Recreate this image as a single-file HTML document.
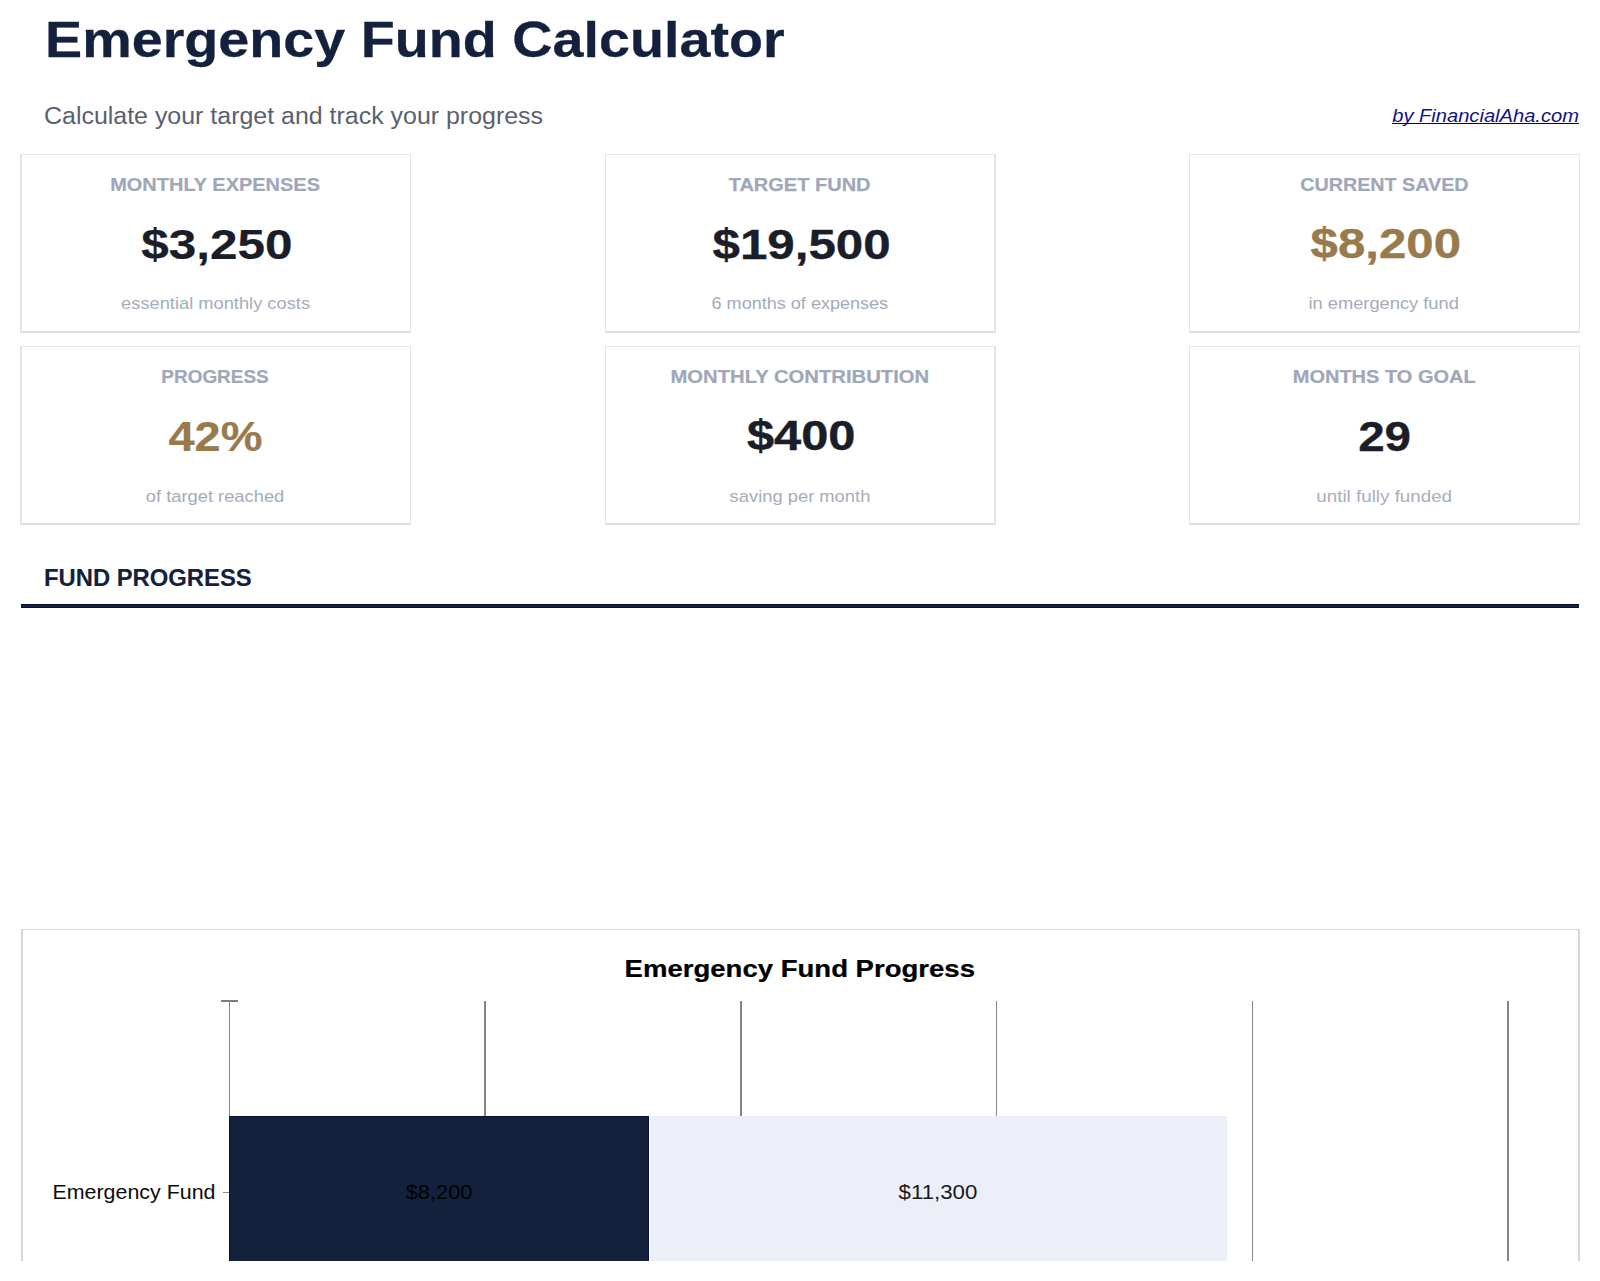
<!DOCTYPE html>
<html lang="en"><head><meta charset="utf-8"><title>Emergency Fund Calculator</title>
<style>
html,body{margin:0;padding:0;background:#fff;overflow:hidden;}
body{width:1600px;height:1281px;overflow:hidden;position:relative;font-family:"Liberation Sans", sans-serif;}
.t{position:absolute;white-space:nowrap;margin:0;padding:0;}
a.t{text-decoration:none;}
.t span{display:inline-block;}
.card{position:absolute;box-sizing:border-box;width:390px;height:179px;background:#fff;border:1px solid #e3e4e9;border-bottom:2px solid #dcdfe6;}
</style></head><body>

<div class="card" style="left:20px;top:154px;width:391px;border-left-width:2px;border-right-width:1px;"></div>
<div class="card" style="left:605px;top:154px;width:391px;border-left-width:1px;border-right-width:2px;"></div>
<div class="card" style="left:1189px;top:154px;width:391px;border-left-width:1px;border-right-width:1px;"></div>
<div class="card" style="left:20px;top:346px;width:391px;border-left-width:2px;border-right-width:1px;"></div>
<div class="card" style="left:605px;top:346px;width:391px;border-left-width:1px;border-right-width:2px;"></div>
<div class="card" style="left:1189px;top:346px;width:391px;border-left-width:1px;border-right-width:1px;"></div>
<div style="position:absolute;left:21px;top:604px;width:1558px;height:4px;box-sizing:border-box;background:#14213d;border-top:1px solid #08142f;border-bottom:1px solid #08142f;"></div>
<svg style="position:absolute;left:0;top:0;" width="1600" height="1281" viewBox="0 0 1600 1281" shape-rendering="crispEdges">
<rect x="21" y="929" width="1559" height="1" fill="#d9d9d9"/>
<rect x="21" y="929" width="2" height="332" fill="#d6d6d6"/>
<rect x="1578" y="929" width="2" height="332" fill="#d6d6d6"/>
<rect x="229" y="1001" width="1" height="260" fill="#898989"/>
<rect x="484" y="1001" width="2" height="260" fill="#858585"/>
<rect x="740" y="1001" width="2" height="260" fill="#858585"/>
<rect x="996" y="1001" width="1" height="260" fill="#898989"/>
<rect x="1252" y="1001" width="1" height="260" fill="#898989"/>
<rect x="1507" y="1001" width="2" height="260" fill="#858585"/>
<rect x="221" y="1000" width="17" height="2" fill="#7d7d7d"/>
<rect x="223" y="1192" width="6" height="1" fill="#888888"/>
<rect x="229" y="1116" width="420" height="145" fill="#06122f"/>
<rect x="230" y="1117" width="418" height="144" fill="#14213d"/>
<rect x="650" y="1116" width="577" height="145" fill="#eceff7"/>
</svg>
<div style="position:absolute;left:1392px;top:123px;width:187px;height:1px;background:#000080;"></div>
<div style="position:absolute;left:0;top:1261px;width:1600px;height:20px;background:#fff;z-index:5;"></div>
<h1 class="t" id="title" style="left:44.73px;top:7.40px;font-size:50.86px;line-height:66px;font-weight:700;font-style:normal;color:#14213d;z-index:10;-webkit-text-stroke:0.30px #14213d;"><span style="transform:scaleX(1.0952);transform-origin:left center;">Emergency Fund Calculator</span></h1>
<p class="t" id="subtitle" style="left:43.97px;top:100.51px;font-size:23.1px;line-height:30px;font-weight:400;font-style:normal;color:#3f4656;z-index:10;opacity:0.858;"><span style="transform:scaleX(1.0799);transform-origin:left center;">Calculate your target and track your progress</span></p>
<a class="t" id="link" style="right:20.62px;text-align:right;top:102.90px;font-size:19.07px;line-height:25px;font-weight:400;font-style:italic;color:#000080;z-index:10;opacity:0.928;"><span style="transform:scaleX(1.0553);transform-origin:right center;">by FinancialAha.com</span></a>
<div class="t" id="lab00" style="left:-184.75px;width:800px;text-align:center;top:171.90px;font-size:19.07px;line-height:25px;font-weight:700;font-style:normal;color:#a0a7b8;z-index:10;-webkit-text-stroke:0.21px #a0a7b8;"><span style="transform:scaleX(1.0481);transform-origin:center center;">MONTHLY EXPENSES</span></div>
<div class="t" id="val00" style="left:-183.18px;width:800px;text-align:center;top:216.64px;font-size:42.38px;line-height:55px;font-weight:700;font-style:normal;color:#1b1e28;z-index:10;-webkit-text-stroke:0.23px #1b1e28;"><span style="transform:scaleX(1.1672);transform-origin:center center;">$3,250</span></div>
<div class="t" id="sm00" style="left:-184.55px;width:800px;text-align:center;top:293.14px;font-size:16.95px;line-height:22px;font-weight:400;font-style:normal;color:#a0a7b8;z-index:10;opacity:0.929;"><span style="transform:scaleX(1.0791);transform-origin:center center;">essential monthly costs</span></div>
<div class="t" id="lab10" style="left:399.62px;width:800px;text-align:center;top:171.90px;font-size:19.07px;line-height:25px;font-weight:700;font-style:normal;color:#a0a7b8;z-index:10;-webkit-text-stroke:0.25px #a0a7b8;"><span style="transform:scaleX(1.0496);transform-origin:center center;">TARGET FUND</span></div>
<div class="t" id="val10" style="left:401.59px;width:800px;text-align:center;top:216.64px;font-size:42.38px;line-height:55px;font-weight:700;font-style:normal;color:#1b1e28;z-index:10;-webkit-text-stroke:0.35px #1b1e28;"><span style="transform:scaleX(1.1639);transform-origin:center center;">$19,500</span></div>
<div class="t" id="sm10" style="left:400.30px;width:800px;text-align:center;top:293.14px;font-size:16.95px;line-height:22px;font-weight:400;font-style:normal;color:#a0a7b8;z-index:10;opacity:0.954;"><span style="transform:scaleX(1.0655);transform-origin:center center;">6 months of expenses</span></div>
<div class="t" id="lab20" style="left:984.34px;width:800px;text-align:center;top:171.76px;font-size:19.07px;line-height:25px;font-weight:700;font-style:normal;color:#a0a7b8;z-index:10;-webkit-text-stroke:0.22px #a0a7b8;"><span style="transform:scaleX(1.0350);transform-origin:center center;">CURRENT SAVED</span></div>
<div class="t" id="val20" style="left:985.88px;width:800px;text-align:center;top:216.34px;font-size:42.38px;line-height:55px;font-weight:700;font-style:normal;color:#987a4d;z-index:10;-webkit-text-stroke:0.40px #987a4d;"><span style="transform:scaleX(1.1601);transform-origin:center center;">$8,200</span></div>
<div class="t" id="sm20" style="left:983.51px;width:800px;text-align:center;top:293.14px;font-size:16.95px;line-height:22px;font-weight:400;font-style:normal;color:#a0a7b8;z-index:10;opacity:0.936;"><span style="transform:scaleX(1.0789);transform-origin:center center;">in emergency fund</span></div>
<div class="t" id="lab01" style="left:-184.80px;width:800px;text-align:center;top:363.90px;font-size:19.07px;line-height:25px;font-weight:700;font-style:normal;color:#a0a7b8;z-index:10;-webkit-text-stroke:0.22px #a0a7b8;"><span style="transform:scaleX(0.9937);transform-origin:center center;">PROGRESS</span></div>
<div class="t" id="val01" style="left:-184.46px;width:800px;text-align:center;top:408.64px;font-size:42.38px;line-height:55px;font-weight:700;font-style:normal;color:#987a4d;z-index:10;-webkit-text-stroke:0.20px #987a4d;"><span style="transform:scaleX(1.1076);transform-origin:center center;">42%</span></div>
<div class="t" id="sm01" style="left:-184.96px;width:800px;text-align:center;top:486.14px;font-size:16.95px;line-height:22px;font-weight:400;font-style:normal;color:#a0a7b8;z-index:10;opacity:0.957;"><span style="transform:scaleX(1.0816);transform-origin:center center;">of target reached</span></div>
<div class="t" id="lab11" style="left:400.14px;width:800px;text-align:center;top:363.90px;font-size:19.07px;line-height:25px;font-weight:700;font-style:normal;color:#a0a7b8;z-index:10;-webkit-text-stroke:0.22px #a0a7b8;"><span style="transform:scaleX(1.0623);transform-origin:center center;">MONTHLY CONTRIBUTION</span></div>
<div class="t" id="val11" style="left:400.97px;width:800px;text-align:center;top:408.34px;font-size:42.38px;line-height:55px;font-weight:700;font-style:normal;color:#1b1e28;z-index:10;-webkit-text-stroke:0.41px #1b1e28;"><span style="transform:scaleX(1.1509);transform-origin:center center;">$400</span></div>
<div class="t" id="sm11" style="left:400.28px;width:800px;text-align:center;top:486.14px;font-size:16.95px;line-height:22px;font-weight:400;font-style:normal;color:#a0a7b8;z-index:10;opacity:0.928;"><span style="transform:scaleX(1.0832);transform-origin:center center;">saving per month</span></div>
<div class="t" id="lab21" style="left:984.07px;width:800px;text-align:center;top:363.90px;font-size:19.07px;line-height:25px;font-weight:700;font-style:normal;color:#a0a7b8;z-index:10;-webkit-text-stroke:0.24px #a0a7b8;"><span style="transform:scaleX(1.0490);transform-origin:center center;">MONTHS TO GOAL</span></div>
<div class="t" id="val21" style="left:984.24px;width:800px;text-align:center;top:408.64px;font-size:42.38px;line-height:55px;font-weight:700;font-style:normal;color:#1b1e28;z-index:10;-webkit-text-stroke:0.35px #1b1e28;"><span style="transform:scaleX(1.1216);transform-origin:center center;">29</span></div>
<div class="t" id="sm21" style="left:983.92px;width:800px;text-align:center;top:486.14px;font-size:16.95px;line-height:22px;font-weight:400;font-style:normal;color:#a0a7b8;z-index:10;opacity:0.915;"><span style="transform:scaleX(1.1088);transform-origin:center center;">until fully funded</span></div>
<h2 class="t" id="sect" style="left:44.34px;top:563.21px;font-size:23.1px;line-height:30px;font-weight:700;font-style:normal;color:#14213d;z-index:10;-webkit-text-stroke:0.11px #14213d;"><span style="transform:scaleX(1.0308);transform-origin:left center;">FUND PROGRESS</span></h2>
<div class="t" id="ctitle" style="left:400.10px;width:800px;text-align:center;top:953.42px;font-size:24.8px;line-height:32px;font-weight:700;font-style:normal;color:#000000;z-index:10;-webkit-text-stroke:0.24px #000000;"><span style="transform:scaleX(1.1103);transform-origin:center center;">Emergency Fund Progress</span></div>
<div class="t" id="ylab" style="right:1384.65px;text-align:right;top:1178.39px;font-size:20.56px;line-height:27px;font-weight:400;font-style:normal;color:#000000;z-index:10;opacity:0.948;"><span style="transform:scaleX(1.0422);transform-origin:right center;">Emergency Fund</span></div>
<div class="t" id="v1" style="left:39.59px;width:800px;text-align:center;top:1178.96px;font-size:20.34px;line-height:26px;font-weight:400;font-style:normal;color:#000000;z-index:10;opacity:0.923;"><span style="transform:scaleX(1.0748);transform-origin:center center;">$8,200</span></div>
<div class="t" id="v2" style="left:538.15px;width:800px;text-align:center;top:1178.96px;font-size:20.34px;line-height:26px;font-weight:400;font-style:normal;color:#000000;z-index:10;opacity:0.891;"><span style="transform:scaleX(1.0941);transform-origin:center center;">$11,300</span></div>
</body></html>
